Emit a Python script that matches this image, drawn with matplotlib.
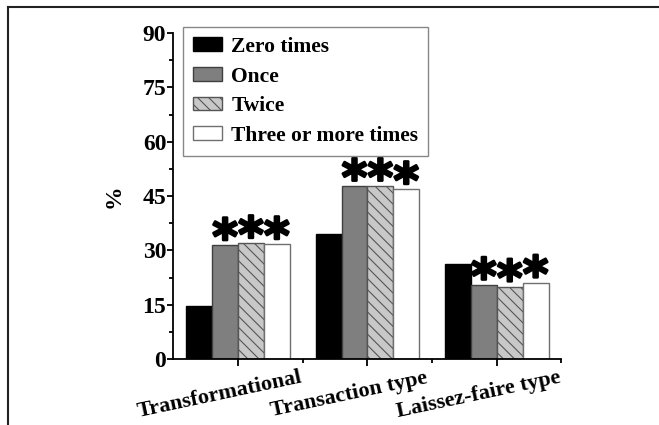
import matplotlib
matplotlib.use("Agg")
import matplotlib.pyplot as plt
import matplotlib.patheffects as pe
import numpy as np
from matplotlib.transforms import ScaledTranslation, blended_transform_factory
from matplotlib.lines import Line2D

categories = ['Transformational', 'Transaction type', 'Laissez-faire type']
series_names = ['Zero times', 'Once', 'Twice', 'Three or more times']
zero = [14.6, 34.5, 26.3]
once = [31.4, 47.8, 20.5]
twice = [32.0, 47.8, 20.0]
three = [31.7, 46.9, 21.1]
y_ticks = [0, 15, 30, 45, 60, 75, 90]
star_series = [1, 2, 3]  # series marked with an asterisk

plt.rcParams['font.family'] = ['Liberation Serif', 'DejaVu Serif']
plt.rcParams['font.weight'] = 'bold'
plt.rcParams['hatch.linewidth'] = 0.8
plt.rcParams['hatch.color'] = '#555555'

fig = plt.figure(figsize=(6.59, 4.25), dpi=100)
ax = fig.add_axes([0.263, 0.1553, 0.589, 0.767])

values = [zero, once, twice, three]
styles = [
    dict(color='black', edgecolor='black'),
    dict(color='#7f7f7f', edgecolor='#404040'),
    dict(color='#c8c8c8', edgecolor='#555555', hatch='\\\\\\'),
    dict(color='white', edgecolor='#707070'),
]
x = np.arange(len(categories))
w = 0.2
offsets = [-1.5 * w, -0.5 * w, 0.5 * w, 1.5 * w]
for vals, st, off, name in zip(values, styles, offsets, series_names):
    ax.bar(x + off, vals, w, label=name, linewidth=1.0, **st)

star_tr = ax.transData + ScaledTranslation(0, -6 / 72, fig.dpi_scale_trans)
for si in star_series:
    for xi, v in zip(x, values[si]):
        ax.text(xi + offsets[si], v, '*', ha='center', va='baseline',
                fontsize=35, fontweight='bold', family=['DejaVu Sans'],
                transform=star_tr,
                path_effects=[pe.withStroke(linewidth=1.8, foreground='black')])

ax.set_xlim(-0.5, 2.5)
ax.set_ylim(0, 90)
ax.set_yticks(y_ticks)
ax.set_yticks(np.arange(7.5, 90, 15), minor=True)
ax.set_xticks(x)
ax.set_xticks([0.5, 1.5, 2.5], minor=True)
ax.set_xticklabels([])
lab_tr = blended_transform_factory(ax.transData, ax.transAxes) + \
    ScaledTranslation(-18 / 100, -36 / 100, fig.dpi_scale_trans)
for xi, cat in zip(x, categories):
    ax.text(xi, 0, cat, rotation=12, ha='center', va='center', fontsize=16,
            fontweight='bold', transform=lab_tr, clip_on=False)
for lab in ax.get_yticklabels():
    lab.set_fontsize(17)
    lab.set_fontweight('bold')

for s in ['top', 'right']:
    ax.spines[s].set_visible(False)
for s in ['left', 'bottom']:
    ax.spines[s].set_linewidth(1.3)
ax.tick_params(which='major', direction='out', length=4, width=1.3, pad=1)
ax.tick_params(which='minor', direction='out', length=3, width=1.3)
ax.tick_params(axis='x', which='major', length=5, pad=3)

ax.set_ylabel('%', fontsize=17, fontweight='bold', labelpad=13)

leg = ax.legend(loc='upper left', bbox_to_anchor=(0.025, 1.018), borderaxespad=0,
                frameon=True, fancybox=False, framealpha=1, edgecolor='#888888',
                prop={'size': 15.5, 'weight': 'bold'}, handlelength=1.35, handleheight=0.6,
                handletextpad=0.45, labelspacing=0.45, borderpad=0.45)
leg.get_frame().set_linewidth(1.0)

# figure border (top and left)
fig.add_artist(Line2D([8 / 659, 1.0], [1 - 7 / 425, 1 - 7 / 425], transform=fig.transFigure,
                      color='#222222', linewidth=1.5))
fig.add_artist(Line2D([8 / 659, 8 / 659], [0, 1 - 7 / 425], transform=fig.transFigure,
                      color='#222222', linewidth=1.5))

fig.savefig('out.png', dpi=100)
